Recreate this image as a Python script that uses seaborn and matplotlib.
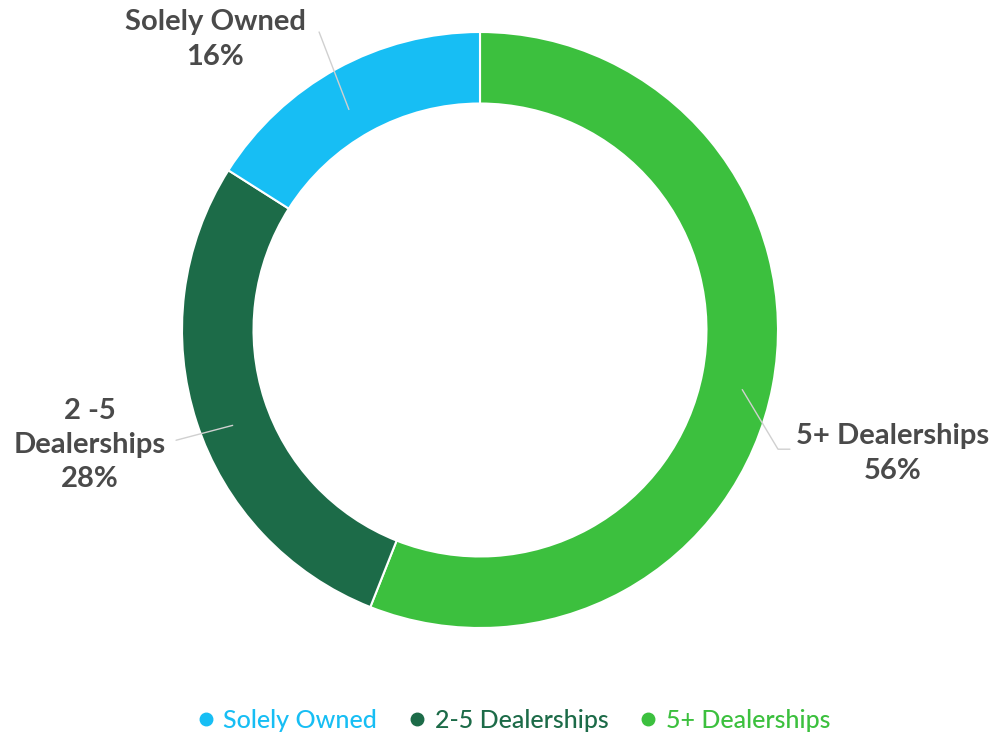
import numpy as np
import matplotlib.pyplot as plt
import seaborn as sns
from matplotlib.lines import Line2D

# datos (orden horario desde arriba)
categorias = ['5+ Dealerships', '2-5 Dealerships', 'Solely Owned']
valores = [56, 28, 16]
etiquetas_graf = ['5+ Dealerships\n56%', '2 -5\nDealerships\n28%', 'Solely Owned\n16%']
colores = ['#3CC03E', '#1C6B48', '#17BEF4']
orden_leyenda = ['Solely Owned', '2-5 Dealerships', '5+ Dealerships']

sns.set_theme(style="white")
plt.rcParams['font.family'] = ['Lato', 'DejaVu Sans']

fig = plt.figure(figsize=(9.93, 7.38), dpi=100)
ax = fig.add_axes([182 / 993, (738 - 628) / 738, 596 / 993, 596 / 738])

wedges, _ = ax.pie(valores, colors=colores, startangle=90, counterclock=False,
                   wedgeprops=dict(width=0.24, edgecolor='white', linewidth=1.5))
ax.set_xlim(-1, 1)
ax.set_ylim(-1, 1)
ax.set_aspect('equal')
ax.axis('off')

# posiciones de etiquetas y lineas guia
pos_txt = [(1.386, -0.415), (-1.309, -0.386), (-0.889, 0.975)]
guias = [[(0.88, -0.2), (1.0, -0.4), (1.04, -0.4)],
         [(-1.02, -0.37), (-0.83, -0.32)],
         [(-0.54, 1.0), (-0.44, 0.74)]]
for (x, y), txt, g in zip(pos_txt, etiquetas_graf, guias):
    ax.text(x, y, txt, ha='center', va='center', fontsize=21, fontweight='bold',
            color='#4A4A4A', linespacing=1.4, clip_on=False)
    gx, gy = zip(*g)
    ax.plot(gx, gy, color='#D0D0D0', lw=1, clip_on=False)

mapa_color = dict(zip(categorias, colores))
handles = [Line2D([0], [0], marker='o', linestyle='', markersize=9,
                  markerfacecolor=mapa_color[c], markeredgecolor=mapa_color[c])
           for c in orden_leyenda]
leg = fig.legend(handles, orden_leyenda, loc='center', bbox_to_anchor=(0.514, 1 - 720 / 738),
                 ncol=3, frameon=False, fontsize=18, handletextpad=0.1, columnspacing=1.0,
                 handlelength=1.2)
for t, c in zip(leg.get_texts(), orden_leyenda):
    t.set_color(mapa_color[c])
    t.set_fontweight('medium')

plt.savefig('out.png', dpi=100)
